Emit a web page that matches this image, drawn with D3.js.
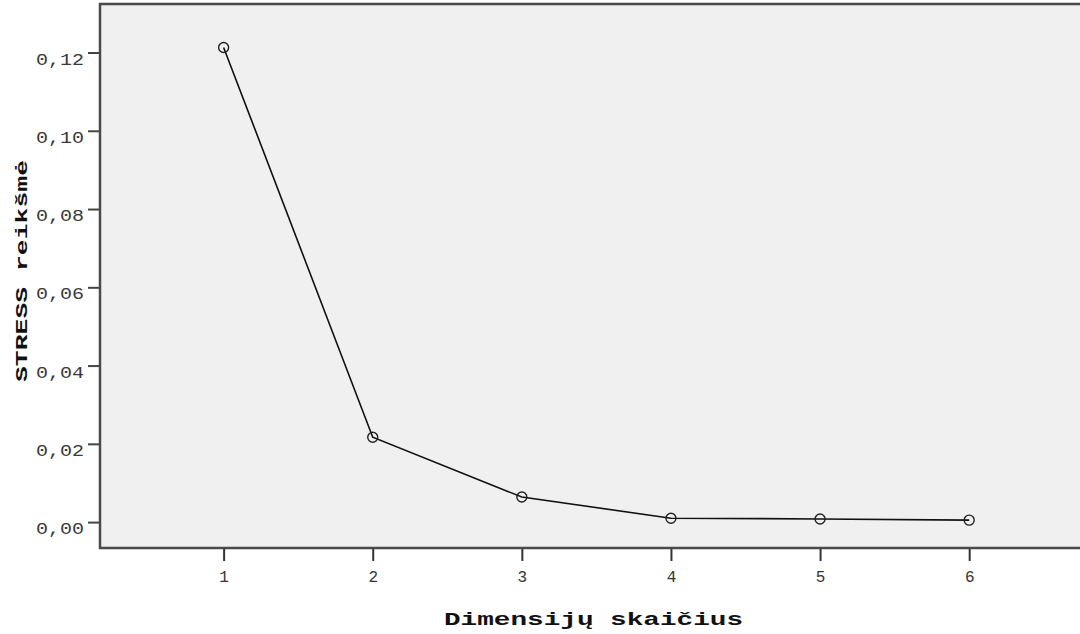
<!DOCTYPE html>
<html>
<head>
<meta charset="utf-8">
<script src="https://cdn.jsdelivr.net/npm/d3@7"></script>
<style>
  body { margin: 0; background: #fff; }
</style>
</head>
<body>
<div id="chart"></div>
<script>
const dims = [1, 2, 3, 4, 5, 6];
const stress = [0.1213, 0.0217, 0.0064, 0.0010, 0.0008, 0.0005];
const yTicks = [0, 0.02, 0.04, 0.06, 0.08, 0.10, 0.12];

function main() {
    const W = 1080, H = 634;
    const left = 100, top = 4, right = 1084, bottom = 548;
    const mono = "'Liberation Mono', 'DejaVu Sans Mono', monospace";

    const svg = d3.select("#chart").append("svg")
        .attr("width", W)
        .attr("height", H)

    const x = d3.scaleLinear()
        .domain([0.171, 6.77])
        .range([left, right])

    const y = d3.scaleLinear()
        .domain([-0.00662, 0.1324])
        .range([bottom, top])

    // plot background
    svg.append("rect")
        .attr("x", left).attr("y", top)
        .attr("width", right - left).attr("height", bottom - top)
        .attr("fill", "#f0f0f0")
        .attr("stroke", "#4a4a4a").attr("stroke-width", 2.5)

    const fmt = d => d3.format(".2f")(d).replace(".", ",");

    const yAxis = svg.append("g")
        .attr("transform", "translate(" + (left - 1) + ",0)")
        .call(d3.axisLeft(y).tickValues(yTicks).tickFormat(fmt).tickSize(11).tickPadding(4))
    yAxis.select(".domain").remove()
    yAxis.selectAll("line").attr("stroke", "#444").attr("stroke-width", 2)
    yAxis.selectAll("text")
        .attr("dy", "0.72em")
        .attr("x", -15)
        .attr("textLength", 48)
        .attr("lengthAdjust", "spacingAndGlyphs")
        .style("font-family", mono)
        .style("font-size", "16px").attr("fill", "#3a3a3a")

    const xAxis = svg.append("g")
        .attr("transform", "translate(0," + (bottom + 1) + ")")
        .call(d3.axisBottom(x).tickValues(dims).tickFormat(d3.format("d")).tickSize(12).tickPadding(10))
    xAxis.select(".domain").remove()
    xAxis.selectAll("line").attr("stroke", "#333").attr("stroke-width", 2)
    xAxis.selectAll("text")
        .style("font-family", mono)
        .style("font-size", "16px").attr("fill", "#333")

    // axis titles
    svg.append("text")
        .attr("x", 444).attr("y", 625)
        .attr("textLength", 299)
        .attr("lengthAdjust", "spacingAndGlyphs")
        .style("font-family", mono)
        .style("font-weight", "bold")
        .style("font-size", "18px")
        .attr("fill", "#111")
        .text("Dimensijų skaičius")

    svg.append("text")
        .attr("transform", "translate(27,382) rotate(-90)")
        .attr("textLength", 222)
        .attr("lengthAdjust", "spacingAndGlyphs")
        .style("font-family", mono)
        .style("font-weight", "bold")
        .style("font-size", "17px")
        .attr("fill", "#111")
        .text("STRESS reikšmė")

    const pts = dims.map((d, i) => ({ d: d, v: stress[i] }));

    svg.append("path")
        .datum(pts)
        .attr("fill", "none")
        .attr("stroke", "#111")
        .attr("stroke-width", 1.6)
        .attr("d", d3.line().x(p => x(p.d)).y(p => y(p.v)))

    svg.selectAll("circle.pt")
        .data(pts)
        .join("circle")
        .attr("class", "pt")
        .attr("cx", p => x(p.d))
        .attr("cy", p => y(p.v))
        .attr("r", 5)
        .attr("fill", "none")
        .attr("stroke", "#222")
        .attr("stroke-width", 1.4)
}
main();
</script>
</body>
</html>
